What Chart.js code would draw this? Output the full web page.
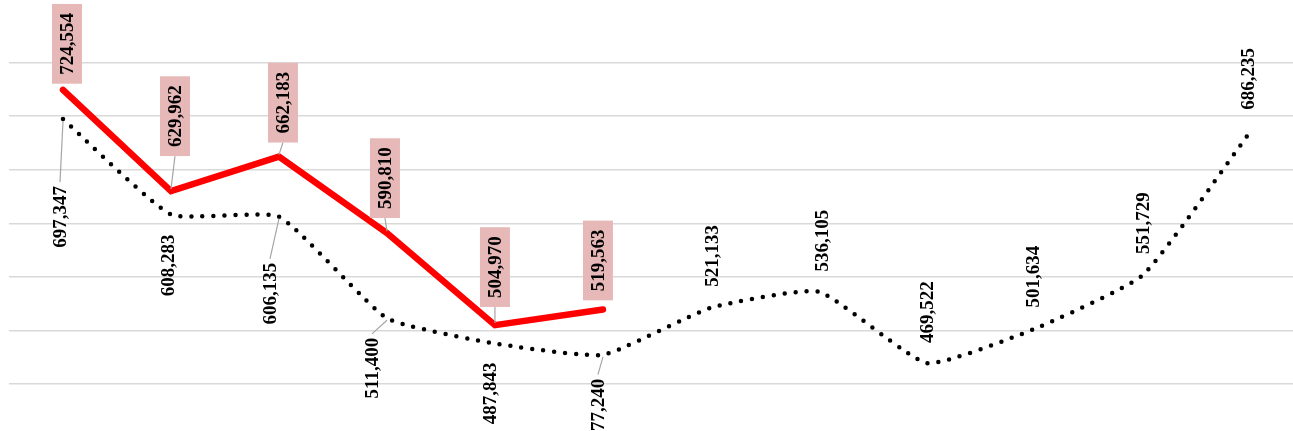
<!DOCTYPE html>
<html>
<head>
<meta charset="utf-8">
<script src="https://cdn.jsdelivr.net/npm/chart.js@4"></script>
<style>
  body { margin: 0; background: #fff; }
  #wrap { width: 1293px; height: 431px; }
</style>
</head>
<body>
<div id="wrap"><canvas id="chart" width="1293" height="431"></canvas></div>
<script>
// categories (no axis labels are shown in the picture)
const categories = ['1', '2', '3', '4', '5', '6', '7', '8', '9', '10', '11', '12'];

// red series (current)
const currentValues = [724554, 629962, 662183, 590810, 504970, 519563];
const currentLabels = ['724,554', '629,962', '662,183', '590,810', '504,970', '519,563'];

// black dotted series (previous)
const previousValues = [697347, 608283, 606135, 511400, 487843, 477240, 521133, 536105, 469522, 501634, 551729, 686235];
const previousLabels = ['697,347', '608,283', '606,135', '511,400', '487,843', '77,240', '521,133', '536,105', '469,522', '501,634', '551,729', '686,235'];

// y grid
const yMin = 450000;
const yMax = 800000;
const yStep = 50000;

// label placement relative to the point: [dx, dy, leader line]
const currentLabelPos = [[4, -46, false], [4, -75, true], [4, -54, true], [-2, -55, true], [0, -58, true], [-5, -49, false]];
const previousLabelPos = [[-3, 98, true], [-3, 51, false], [-9, 77, true], [-15, 50, true], [-5, 50, false], [-5, 50, true],
                          [1, -52, false], [3, -51, false], [0, -51, false], [-2, -52, false], [0, -52, false], [-3, -52, false]];

const labelFont = 'bold 19px "Liberation Serif", "Times New Roman", serif';

// category index -> point (the last category runs a little past the right edge)
const toPoints = (vals) => vals.map((v, i) => ({ x: i, y: v }));

// draws the rotated value labels (boxes for the red series)
const valueLabels = {
  id: 'valueLabels',
  afterDatasetsDraw(chart) {
    const ctx = chart.ctx;
    ctx.save();
    ctx.font = labelFont;
    chart.data.datasets.forEach((ds, di) => {
      const meta = chart.getDatasetMeta(di);
      const texts = di === 0 ? previousLabels : currentLabels;
      const pos = di === 0 ? previousLabelPos : currentLabelPos;
      meta.data.forEach((pt, i) => {
        const t = texts[i];
        const [dx, dy, leader] = pos[i];
        const cx = pt.x + dx;
        const cy = pt.y + dy;
        const tw = ctx.measureText(t).width;
        const boxed = di === 1;
        const halfH = tw / 2 + (boxed ? 9 : 0);
        const halfW = boxed ? 15 : 9;

        if (leader) {
          const ey = dy < 0 ? cy + halfH : cy - halfH - (boxed ? 0 : 4);
          ctx.strokeStyle = '#a6a6a6';
          ctx.lineWidth = 1.2;
          ctx.beginPath();
          ctx.moveTo(pt.x, pt.y + (dy < 0 ? -2 : 2));
          ctx.lineTo(cx, ey);
          ctx.stroke();
        }
        if (boxed) {
          ctx.fillStyle = '#e6b9b8';
          ctx.fillRect(cx - halfW, cy - halfH, halfW * 2, halfH * 2);
        }
        ctx.save();
        ctx.translate(cx, cy);
        ctx.rotate(-Math.PI / 2);
        ctx.fillStyle = '#000';
        ctx.textAlign = 'center';
        ctx.textBaseline = 'middle';
        ctx.fillText(t, 0, 1);
        ctx.restore();
      });
    });
    ctx.restore();
  }
};

new Chart(document.getElementById('chart'), {
  type: 'line',
  data: {
    labels: categories,
    datasets: [
      {
        label: 'Previous',
        data: toPoints(previousValues),
        borderColor: '#000000',
        borderWidth: 4.5,
        borderDash: [0, 11],
        borderCapStyle: 'round',
        tension: 0.15,
        pointRadius: 0,
        fill: false,
        clip: false
      },
      {
        label: 'Current',
        data: toPoints(currentValues),
        borderColor: '#ff0000',
        borderWidth: 6.5,
        borderCapStyle: 'round',
        tension: 0,
        pointRadius: 0,
        fill: false,
        clip: false
      }
    ]
  },
  options: {
    responsive: false,
    animation: false,
    devicePixelRatio: 1,
    layout: { padding: { left: 9, right: 0, top: 9, bottom: 47 } },
    plugins: {
      legend: { display: false },
      tooltip: { enabled: false }
    },
    scales: {
      x: {
        type: 'linear',
        display: false,
        min: -0.5,
        max: 11.39
      },
      y: {
        min: yMin,
        max: yMax,
        ticks: { display: false, stepSize: yStep },
        border: { display: false },
        grid: {
          drawTicks: false,
          tickLength: 0,
          lineWidth: 1.5,
          color: (c) => (c.tick && c.tick.value >= yMax) ? 'rgba(0,0,0,0)' : '#d9d9d9'
        }
      }
    }
  },
  plugins: [valueLabels]
});
</script>
</body>
</html>
